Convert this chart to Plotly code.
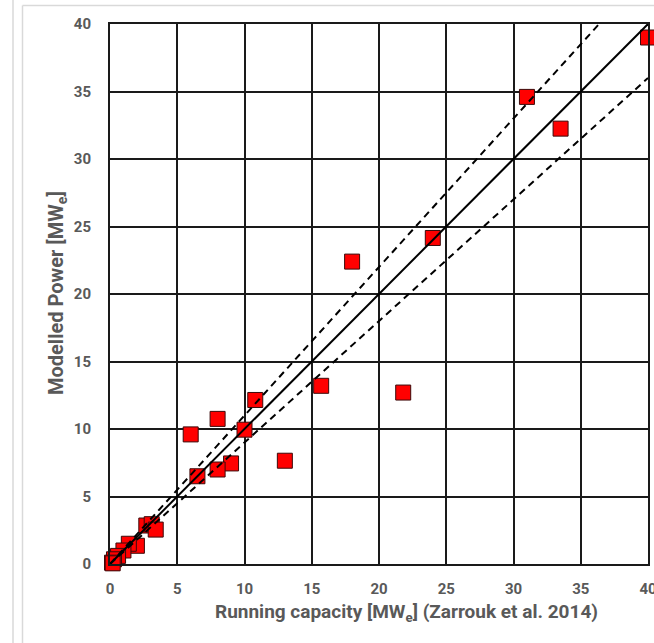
import plotly.graph_objects as go

# Data
running_capacity = [40.0, 31.0, 33.5, 24.0, 18.0, 15.7, 21.8, 10.8, 8.0, 6.0, 10.0, 13.0, 9.0, 8.0, 6.5,
                    2.7, 3.1, 3.4, 2.0, 1.4, 1.0, 0.6, 0.3, 0.15, 0.2]
modelled_power = [39.0, 34.6, 32.25, 24.15, 22.4, 13.2, 12.7, 12.15, 10.75, 9.6, 9.95, 7.65, 7.45, 7.0, 6.5,
                  2.85, 2.95, 2.55, 1.35, 1.5, 1.0, 0.6, 0.35, 0.1, 0.05]
one_to_one_x = [0, 40]
upper_factor = 1.1
lower_factor = 0.9
tick_vals = [0, 5, 10, 15, 20, 25, 30, 35, 40]

W, H = 654, 643
L, R, T, B = 110, 6, 24, 79
pw, ph = W - L - R, H - T - B

def px_to_paper_x(px):
    return (px - L) / pw

def px_to_paper_y(py):
    return (H - B - py) / ph

gray = "#595959"
font_family = "Roboto"

fig = go.Figure()
fig.add_trace(go.Scatter(
    x=running_capacity, y=modelled_power, mode="markers",
    marker=dict(symbol="square", size=15, color="#ff0000",
                line=dict(color="#3b0a0a", width=1)),
    cliponaxis=False, showlegend=False))

fig.add_trace(go.Scatter(x=one_to_one_x, y=one_to_one_x, mode="lines",
                         line=dict(color="black", width=2), showlegend=False))
ux = [0, one_to_one_x[1] / upper_factor]
fig.add_trace(go.Scatter(x=ux, y=[v * upper_factor for v in ux], mode="lines",
                         line=dict(color="black", width=2, dash="7px,5px"), showlegend=False))
fig.add_trace(go.Scatter(x=one_to_one_x, y=[v * lower_factor for v in one_to_one_x], mode="lines",
                         line=dict(color="black", width=2, dash="7px,5px"), showlegend=False))

axis_common = dict(range=[0, 40], tickvals=tick_vals, showgrid=True, gridcolor="#1a1a1a", gridwidth=1.5,
                   zeroline=False, showline=True, linecolor="#1a1a1a", linewidth=2, mirror=True,
                   ticks="", ticklabeloverflow="allow", automargin=False,
                   tickfont=dict(family=font_family, size=15, color=gray, weight="bold"))

fig.update_xaxes(**axis_common, ticklabelstandoff=10)
fig.update_yaxes(**axis_common, ticklabelstandoff=14)

fig.add_annotation(text="Running capacity [MW<sub>e</sub>] (Zarrouk et al. 2014)",
                   xref="paper", yref="paper", x=px_to_paper_x(406), y=px_to_paper_y(612),
                   showarrow=False, xanchor="center", yanchor="middle",
                   font=dict(family=font_family, size=19, color=gray, weight="bold"))
fig.add_annotation(text="Modelled Power [MW<sub>e</sub>]",
                   xref="paper", yref="paper", x=px_to_paper_x(57), y=px_to_paper_y(293),
                   showarrow=False, xanchor="center", yanchor="middle", textangle=-90,
                   font=dict(family=font_family, size=20, color=gray, weight="bold"))

# light gray panel frame lines
frame = "#d9d9d9"
fig.add_shape(type="line", xref="paper", yref="paper", x0=px_to_paper_x(13), x1=px_to_paper_x(13),
              y0=px_to_paper_y(H + 5), y1=px_to_paper_y(-5), line=dict(color=frame, width=1.5), layer="below")
fig.add_shape(type="line", xref="paper", yref="paper", x0=px_to_paper_x(22.5), x1=px_to_paper_x(22.5),
              y0=px_to_paper_y(H + 5), y1=px_to_paper_y(5.5), line=dict(color=frame, width=1.5), layer="below")
fig.add_shape(type="line", xref="paper", yref="paper", x0=px_to_paper_x(22.5), x1=px_to_paper_x(W + 5),
              y0=px_to_paper_y(5.5), y1=px_to_paper_y(5.5), line=dict(color=frame, width=1.5), layer="below")

fig.update_layout(width=W, height=H, margin=dict(l=L, r=R, t=T, b=B),
                  paper_bgcolor="white", plot_bgcolor="white")

fig.write_html("out.html")
